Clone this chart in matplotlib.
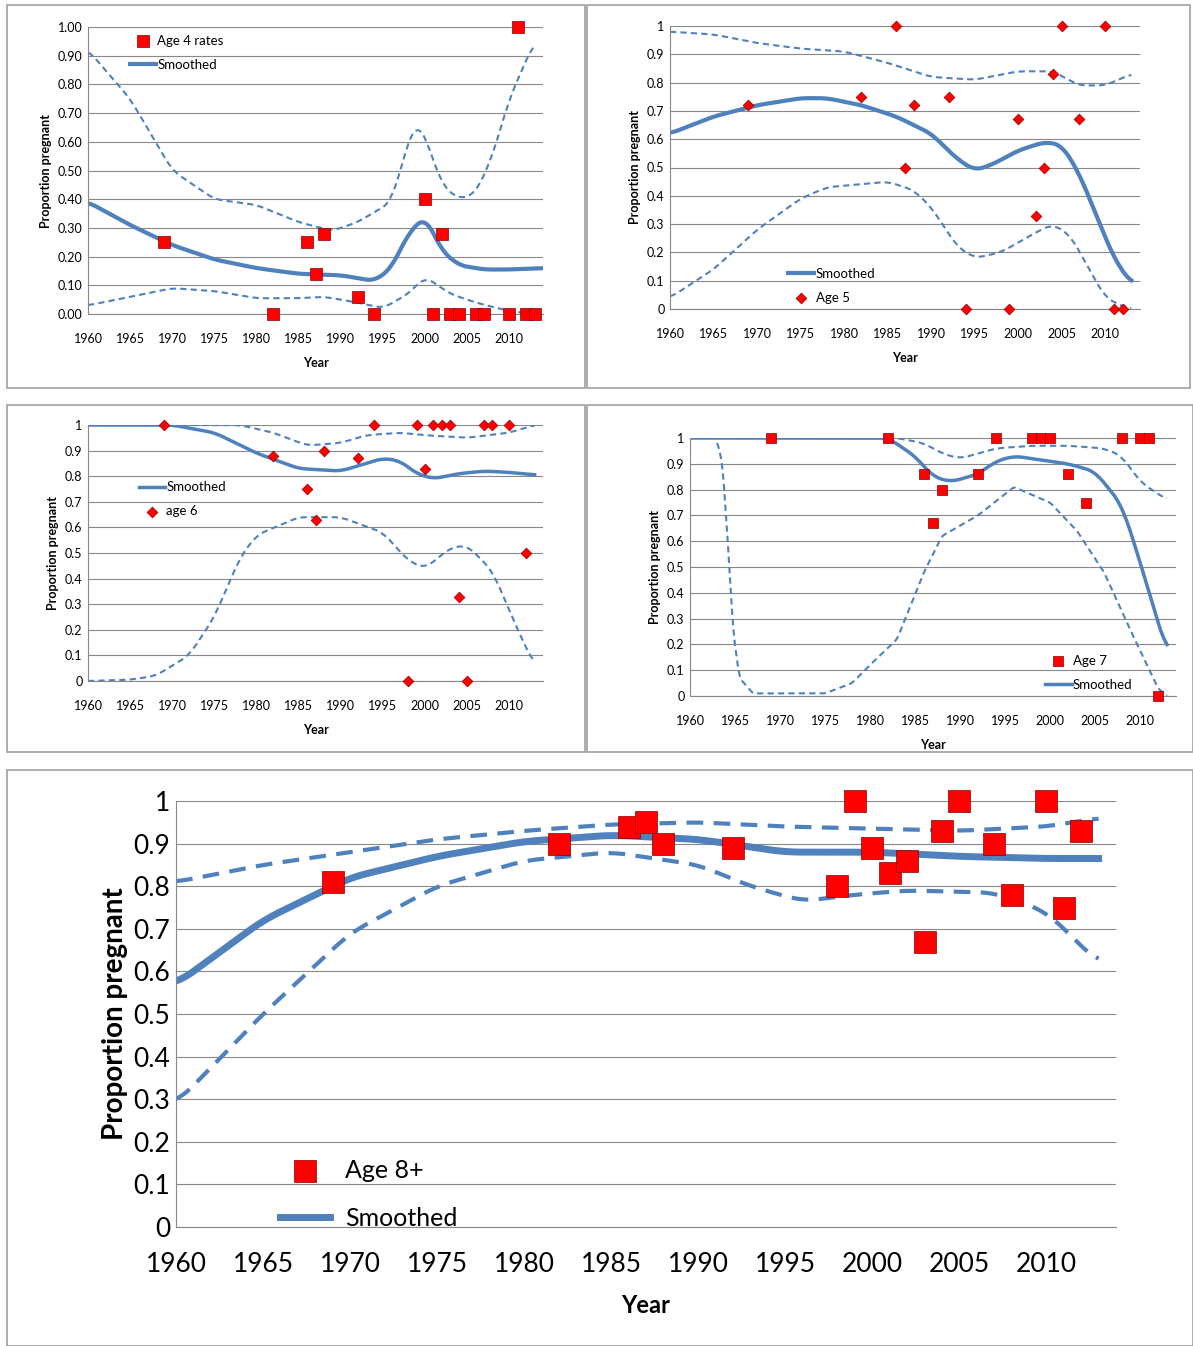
import numpy as np
import matplotlib
matplotlib.use("Agg")
import matplotlib.pyplot as plt
from matplotlib.patches import Rectangle

plt.rcParams['font.family'] = ['Lato', 'DejaVu Sans']

# ---- Data ----
a4_x = [1969,1982,1986,1987,1988,1992,1994,2000,2001,2002,2003,2004,2006,2007,2010,2011,2012,2013]
a4_y = [0.25,0.0,0.25,0.14,0.28,0.06,0.0,0.40,0.0,0.28,0.0,0.0,0.0,0.0,0.0,1.0,0.0,0.0]
a4_sx = [1960,1965,1970,1975,1980,1985,1990,1994,1996,1998,2000,2002,2004,2007,2010,2014]
a4_s  = [0.39,0.31,0.24,0.19,0.16,0.14,0.135,0.115,0.16,0.28,0.34,0.22,0.17,0.155,0.155,0.16]
a4_ux = [1960,1965,1970,1975,1980,1985,1989,1992,1996,1998,1999,2000,2002,2004,2006,2008,2010,2013]
a4_u  = [0.92,0.75,0.50,0.40,0.38,0.32,0.29,0.32,0.39,0.60,0.67,0.62,0.45,0.40,0.42,0.55,0.75,0.95]
a4_lx = [1960,1965,1970,1975,1980,1985,1988,1992,1995,1998,2000,2003,2006,2010,2013]
a4_l  = [0.03,0.06,0.09,0.08,0.055,0.055,0.06,0.04,0.02,0.07,0.13,0.07,0.04,0.01,0.0]

a5_x = [1969,1982,1986,1987,1988,1992,1994,1999,2000,2002,2003,2004,2005,2007,2010,2011,2012]
a5_y = [0.72,0.75,1,0.5,0.72,0.75,0,0,0.67,0.33,0.5,0.83,1,0.67,1,0,0]
a5_sx = [1960,1965,1970,1975,1978,1982,1986,1990,1993,1995,1997,2000,2003,2005,2007,2009,2011,2013]
a5_s  = [0.62,0.68,0.72,0.745,0.745,0.72,0.68,0.62,0.53,0.49,0.51,0.56,0.59,0.58,0.48,0.33,0.18,0.09]
a5_ux = [1960,1965,1970,1975,1980,1985,1990,1995,2000,2004,2007,2010,2013]
a5_u  = [0.98,0.97,0.94,0.92,0.91,0.87,0.82,0.81,0.84,0.84,0.79,0.79,0.83]
a5_lx = [1960,1965,1970,1975,1978,1985,1988,1990,1993,1995,1998,2002,2004,2006,2008,2010,2012,2013]
a5_l  = [0.04,0.14,0.28,0.39,0.43,0.45,0.42,0.36,0.22,0.18,0.2,0.27,0.3,0.26,0.15,0.04,0.01,0.0]

a6_x = [1969,1982,1986,1987,1988,1992,1994,1998,1999,2000,2001,2002,2003,2004,2005,2007,2008,2010,2012]
a6_y = [1,0.88,0.75,0.63,0.9,0.87,1,0,1,0.83,1,1,1,0.33,0,1,1,1,0.5]
a6_sx = [1960,1970,1975,1980,1985,1990,1993,1995,1997,1999,2001,2004,2007,2010,2013]
a6_s  = [1,1,0.97,0.89,0.83,0.82,0.85,0.87,0.86,0.81,0.79,0.81,0.82,0.815,0.805]
a6_ux = [1960,1978,1982,1986,1990,1993,1997,2000,2005,2010,2013]
a6_u  = [1,1,0.97,0.92,0.93,0.96,0.97,0.96,0.95,0.97,1.0]
a6_lx = [1960,1965,1968,1972,1975,1978,1980,1985,1990,1995,1998,2000,2003,2005,2008,2011,2013]
a6_l  = [0,0.005,0.02,0.1,0.25,0.48,0.57,0.64,0.64,0.58,0.47,0.44,0.52,0.53,0.43,0.2,0.06]

a7_x = [1969,1982,1986,1987,1988,1992,1994,1998,1999,2000,2002,2004,2008,2010,2011,2012]
a7_y = [1,1,0.86,0.67,0.8,0.86,1,1,1,1,0.86,0.75,1,1,1,0]
a7_sx = [1960,1982,1985,1987,1989,1992,1994,1996,1998,2002,2005,2008,2010,2013]
a7_s  = [1,1,0.93,0.85,0.83,0.86,0.91,0.93,0.92,0.9,0.87,0.74,0.52,0.17]
a7_ux = [1960,1983,1986,1988,1990,1994,1998,2002,2006,2008,2010,2013]
a7_u  = [1,1,0.98,0.94,0.92,0.96,0.97,0.97,0.96,0.93,0.83,0.76]
a7_lx = [1963,1963.6,1964.2,1964.8,1965.5,1967,1975,1978,1980,1983,1986,1988,1992,1996,2000,2003,2006,2009,2012,2013]
a7_l  = [0.99,0.9,0.6,0.25,0.07,0.01,0.01,0.05,0.12,0.22,0.48,0.62,0.7,0.81,0.75,0.64,0.48,0.25,0.03,0.0]

a8_x = [1969,1982,1986,1987,1988,1992,1998,1999,2000,2001,2002,2003,2004,2005,2007,2008,2010,2011,2012]
a8_y = [0.81,0.9,0.94,0.95,0.9,0.89,0.8,1,0.89,0.83,0.86,0.67,0.93,1,0.9,0.78,1,0.75,0.93]
a8_sx = [1960,1965,1970,1975,1980,1985,1990,1995,2000,2005,2010,2013]
a8_s  = [0.57,0.72,0.82,0.87,0.905,0.92,0.91,0.88,0.88,0.87,0.865,0.865]
a8_ux = [1960,1965,1970,1975,1980,1985,1990,1995,2000,2005,2010,2013]
a8_u  = [0.81,0.85,0.88,0.91,0.93,0.945,0.95,0.94,0.935,0.93,0.94,0.96]
a8_lx = [1960,1965,1970,1975,1980,1985,1990,1993,1996,1999,2002,2007,2010,2013]
a8_l  = [0.29,0.5,0.69,0.8,0.86,0.88,0.85,0.8,0.765,0.78,0.79,0.785,0.74,0.62]

BLUE = '#4F81BD'
RED = '#FF0000'

def smooth_curve(xs, ys, k=9):
    xs = np.asarray(xs, float); ys = np.asarray(ys, float)
    g = np.linspace(xs[0], xs[-1], 500)
    v = np.interp(g, xs, ys)
    if k > 0:
        pad = np.pad(v, k, mode='edge')
        w = np.ones(2 * k + 1) / (2 * k + 1)
        v = np.convolve(pad, w, mode='valid')
    return g, v

fig = plt.figure(figsize=(11.93, 13.46), dpi=100)
W, H = 1193, 1346
for (x0, y0, x1, y1) in [(7,5,585,388),(587,5,1190,388),(7,405,585,752),(587,405,1193,752),(7,770,1193,1346)]:
    fig.patches.append(Rectangle((x0/W, 1-y1/H), (x1-x0)/W, (y1-y0)/H, transform=fig.transFigure,
                                 fill=False, edgecolor='#A0A0A0', lw=1.2))

def panel(rect, px, py, sx, s, ux, u, lx, l, marker, ms, label, fmt,
          fs, lw_s, lw_d, legloc, order_marker_first, labfs, legfs, pad, lpad,
          dash=(3, 2), lk=9, spacing=0.5, ylabfs=None, htp=0.1):
    ax = fig.add_axes(rect)
    ax.set_xlim(1960, 2014); ax.set_ylim(0, 1)
    t1 = [i / 10 for i in range(11)]
    ax.set_yticks(t1); ax.set_yticklabels(fmt, fontsize=fs)
    xt = list(range(1960, 2011, 5))
    ax.set_xticks(xt); ax.set_xticklabels([str(t) for t in xt], fontsize=fs)
    ax.grid(axis='y', color='#888888', lw=0.8)
    ax.set_axisbelow(True)
    for sp in ['top', 'right']:
        ax.spines[sp].set_visible(False)
    ax.spines['left'].set_color('#888888'); ax.spines['bottom'].set_color('#888888')
    ax.tick_params(axis='x', length=0, pad=pad)
    ax.tick_params(axis='y', length=0, pad=4)
    g, v = smooth_curve(ux, u); ax.plot(g, v, color=BLUE, lw=lw_d, ls=(0, dash))
    g, v = smooth_curve(lx, l, lk); ax.plot(g, v, color=BLUE, lw=lw_d, ls=(0, dash))
    g, v = smooth_curve(sx, s); hs, = ax.plot(g, v, color=BLUE, lw=lw_s, label='Smoothed')
    hm = ax.scatter(px, py, marker=marker, s=ms, color=RED, edgecolor='#8B0000', linewidth=0.5,
                    zorder=5, label=label, clip_on=False)
    handles = [hm, hs] if order_marker_first else [hs, hm]
    ax.legend(handles=handles, loc=legloc, frameon=False, fontsize=legfs, handlelength=2,
              borderaxespad=0.3, labelspacing=spacing, handletextpad=htp)
    ax.set_xlabel('Year', fontsize=labfs, fontweight='bold', labelpad=lpad)
    ax.set_ylabel('Proportion pregnant', fontsize=ylabfs or labfs, fontweight='bold')
    return ax

lab4 = ['%.2f' % (i / 10) for i in range(11)]
lab = ['0'] + ['%.1f' % (i / 10) for i in range(1, 10)] + ['1']

panel([88/W, 1-314/H, 455/W, 287/H], a4_x, a4_y, a4_sx, a4_s, a4_ux, a4_u, a4_lx, a4_l,
      's', 70, 'Age 4 rates', lab4, 9, 3, 1.5, (0.08, 0.83), True, 9, 9.5, 14, 8, spacing=0.9)
panel([670/W, 1-309/H, 470/W, 283/H], a5_x, a5_y, a5_sx, a5_s, a5_ux, a5_u, a5_lx, a5_l,
      'D', 30, 'Age 5', lab, 9, 3, 1.5, (0.24, 0.0), False, 9, 9.5, 14, 8, spacing=0.9)
panel([88/W, 1-681/H, 455/W, 256/H], a6_x, a6_y, a6_sx, a6_s, a6_ux, a6_u, a6_lx, a6_l,
      'D', 30, 'age 6', lab, 9, 2.5, 1.5, (0.1, 0.62), False, 9, 9.5, 14, 8, spacing=0.9)
panel([690/W, 1-696/H, 486/W, 258/H], a7_x, a7_y, a7_sx, a7_s, a7_ux, a7_u, a7_lx, a7_l,
      's', 55, 'Age 7', lab, 9, 2.5, 1.5, (0.72, 0.0), True, 9, 9.5, 14, 8, lk=2, spacing=0.9)
panel([176/W, 1-1227/H, 940/W, 426/H], a8_x, a8_y, a8_sx, a8_s, a8_ux, a8_u, a8_lx, a8_l,
      's', 260, 'Age 8+', lab, 19, 5, 3, (0.1, -0.03), True, 17, 18, 18, 12, dash=(4, 2.5),
      spacing=1.0, ylabfs=20, htp=0.6)

fig.savefig('out.png', dpi=100)
